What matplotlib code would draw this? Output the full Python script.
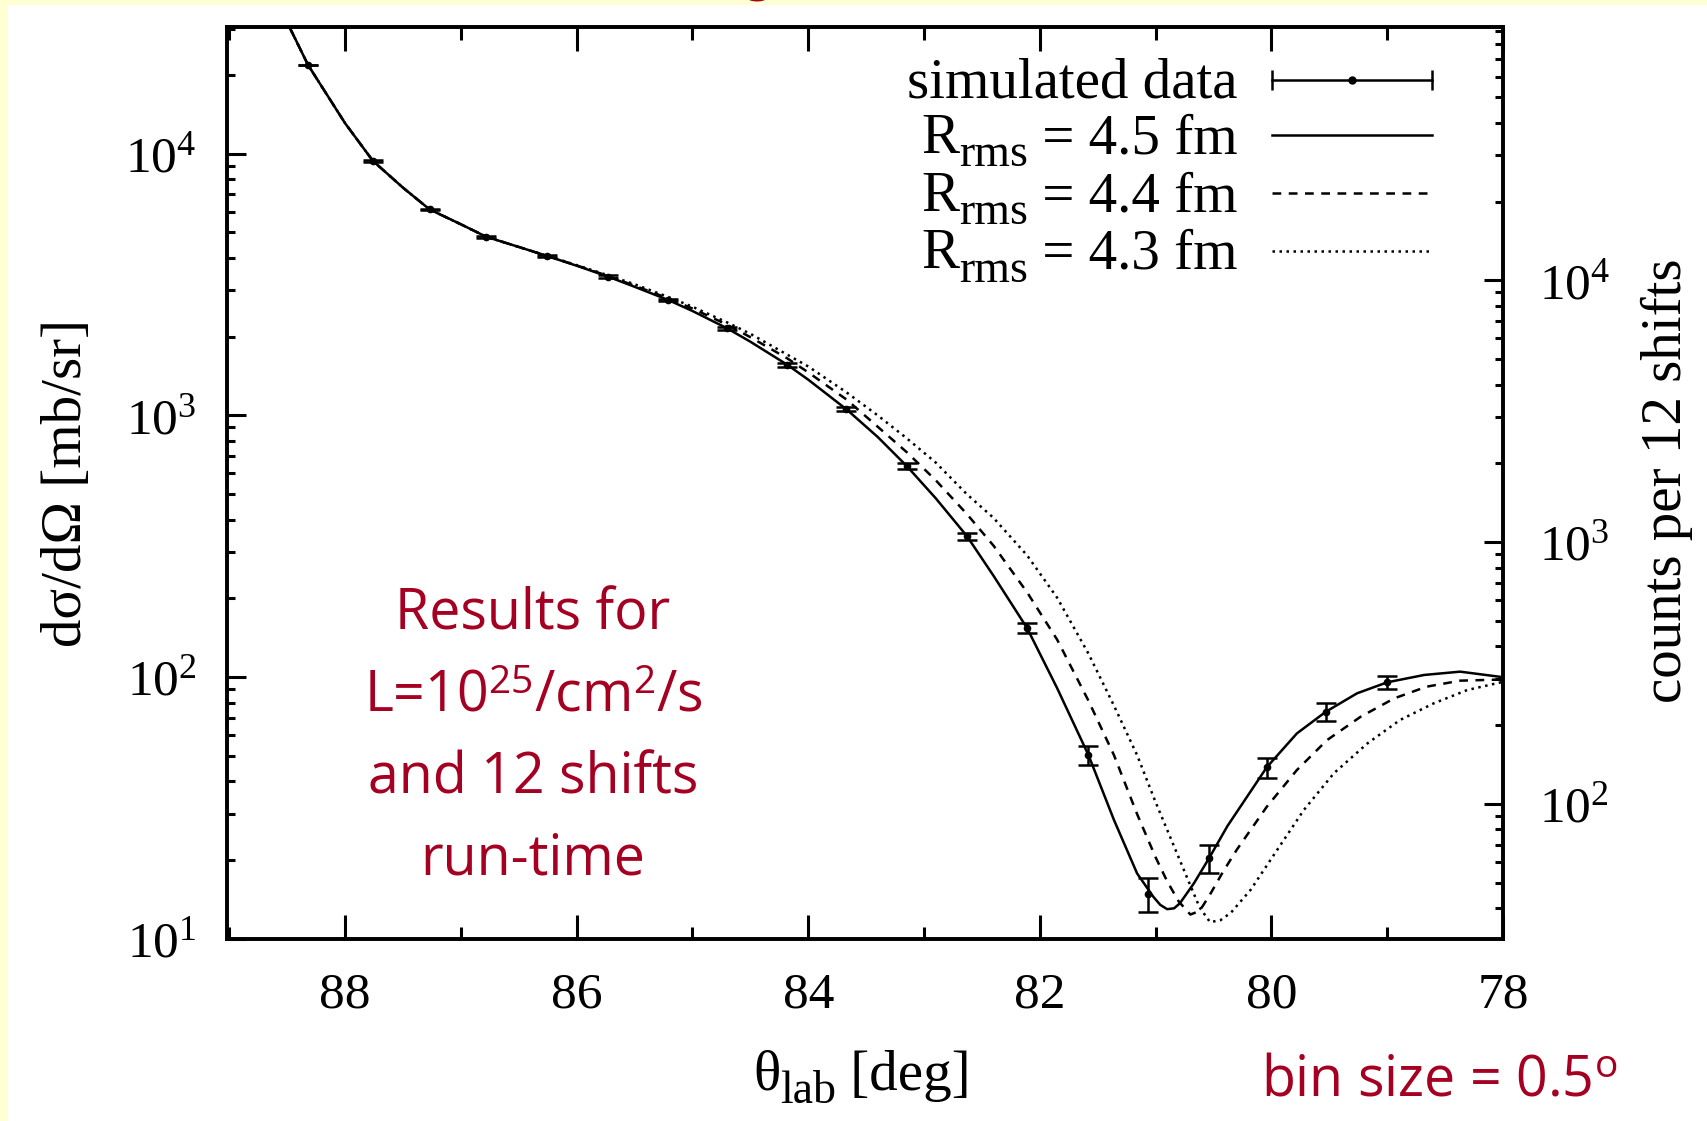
import matplotlib
matplotlib.use('Agg')
import matplotlib.pyplot as plt
from matplotlib.ticker import FixedLocator, FuncFormatter, LogLocator, NullFormatter, MultipleLocator
from matplotlib.patches import Rectangle
import numpy as np

# ---------------- data ----------------
data_theta = [88.32, 87.76, 87.27, 86.78, 86.26, 85.73, 85.21, 84.70, 84.18, 83.67,
              83.15, 82.63, 82.11, 81.58, 81.07, 80.54, 80.04, 79.53, 79.00]
data_sigma = [21800, 9380, 6120, 4810, 4070, 3390, 2760, 2150, 1560, 1055,
              641, 346, 154, 50.4, 14.9, 20.3, 45.3, 73.8, 95.6]
data_err = [90, 55, 45, 40, 37, 34, 30, 27, 23, 19, 15, 11, 7, 4.2, 2.2, 2.5, 4.0, 5.6, 5.5]

theta_45 = [88.60, 88.48, 88.32, 88.00, 87.76, 87.50, 87.27, 87.00, 86.78, 86.50, 86.26, 86.00,
            85.73, 85.50, 85.21, 85.00, 84.70, 84.50, 84.18, 84.00, 83.67, 83.40, 83.15, 82.90,
            82.63, 82.40, 82.11, 81.85, 81.58, 81.36, 81.16, 81.02, 80.96, 80.90, 80.84, 80.79,
            80.67, 80.54, 80.38, 80.30, 80.04, 79.78, 79.53, 79.26, 79.00, 78.68, 78.37, 78.00]
sigma_45 = [40000, 30400, 21800, 13060, 9380, 7410, 6120, 5370, 4810, 4400, 4070, 3730,
            3390, 3100, 2760, 2505, 2150, 1912, 1560, 1369, 1055, 827, 641, 483,
            346, 244, 154, 90.7, 50.4, 28.5, 17.8, 14.5, 13.5, 13.0, 13.1, 13.7,
            16.3, 20.3, 27.0, 30.5, 45.3, 61.0, 73.8, 86.8, 95.6, 102, 105, 100]

theta_44 = [88.60, 88.48, 88.32, 88.00, 87.76, 87.50, 87.27, 87.00, 86.78, 86.50, 86.26, 86.00,
            85.73, 85.50, 85.21, 85.00, 84.70, 84.50, 84.18, 84.00, 83.67, 83.40, 83.15, 82.90,
            82.63, 82.40, 82.11, 81.85, 81.58, 81.36, 81.16, 81.00, 80.90, 80.80, 80.70, 80.62,
            80.53, 80.42, 80.30, 80.04, 79.78, 79.52, 79.23, 78.94, 78.66, 78.37, 78.00]
sigma_44 = [40000, 30400, 21800, 13060, 9380, 7410, 6120, 5370, 4810, 4400, 4070, 3740,
            3410, 3130, 2800, 2560, 2220, 1990, 1650, 1460, 1150, 905, 724, 566,
            420, 318, 211, 139, 81.3, 50.4, 30.0, 20.5, 16.6, 13.9, 12.4, 12.8,
            14.8, 18.0, 21.9, 32.0, 44.2, 57.5, 70.6, 83.0, 92.0, 97.0, 98.0]

theta_43 = [88.60, 88.48, 88.32, 88.00, 87.76, 87.50, 87.27, 87.00, 86.78, 86.50, 86.26, 86.00,
            85.73, 85.50, 85.21, 85.00, 84.70, 84.50, 84.18, 84.00, 83.67, 83.40, 83.15, 82.90,
            82.63, 82.40, 82.11, 81.85, 81.58, 81.36, 81.16, 81.00, 80.85, 80.72, 80.62, 80.53,
            80.44, 80.35, 80.18, 79.95, 79.72, 79.46, 79.17, 78.89, 78.60, 78.31, 78.00]
sigma_43 = [40000, 30400, 21800, 13060, 9380, 7410, 6120, 5370, 4810, 4400, 4075, 3750,
            3430, 3170, 2835, 2600, 2265, 2050, 1705, 1538, 1225, 1000, 818, 661,
            500, 406, 292, 201, 123, 77.9, 50.4, 33.3, 23.1, 16.8, 13.2, 11.6,
            11.8, 12.6, 15.4, 21.9, 31.1, 43.0, 55.9, 68.6, 79.4, 89.3, 96.0]

x_ticks = [88, 86, 84, 82, 80, 78]
x_tick_labels = ['88', '86', '84', '82', '80', '78']
left_y_ticks = [10, 100, 1000, 10000]
right_y_ticks = [100, 1000, 10000]
counts_per_sigma = 3.05
y_limits = [10, 30450]
x_limits = [89.02, 78]

legend_first = 'simulated data'
legend_radii = [' = 4.5 fm', ' = 4.4 fm', ' = 4.3 fm']
note_lines = ['Results for',
              r'L=10$^{\mathregular{25}}$/cm$^{\mathregular{2}}$/s',
              'and 12 shifts',
              'run-time']
bin_note = r'bin size = 0.5$^{\mathregular{o}}$'

# ---------------- style ----------------
SERIF = 'Liberation Serif'
SANS = 'Open Sans'
RED = '#A50021'
YELLOW = '#FFFFD4'
plt.rcParams['font.family'] = [SERIF, 'DejaVu Serif']
plt.rcParams['mathtext.fontset'] = 'custom'
plt.rcParams['mathtext.rm'] = SERIF
plt.rcParams['mathtext.it'] = SERIF + ':italic'
plt.rcParams['mathtext.bf'] = SERIF + ':bold'

W, H = 1708, 1121
FS = 41
SUBFS = 33
SUBDROP = 13
fig = plt.figure(figsize=(W / 100, H / 100), dpi=100)
fig.patch.set_facecolor('white')
renderer = fig.canvas.get_renderer()
fig.add_artist(Rectangle((0, 1 - 5 / H), 1, 5 / H, transform=fig.transFigure,
                         facecolor=YELLOW, edgecolor='none'))
fig.add_artist(Rectangle((0, 0), 8 / W, 1, transform=fig.transFigure,
                         facecolor=YELLOW, edgecolor='none'))

ax = fig.add_axes([227 / W, 1 - 939 / H, (1503 - 227) / W, (939 - 27) / H])
ax.set_yscale('log')
ax.set_xlim(*x_limits)
ax.set_ylim(*y_limits)

LW = 1.8
ax.plot(theta_45, sigma_45, color='black', lw=LW, zorder=3)
ax.plot(theta_44, sigma_44, color='black', lw=LW, dashes=(3.5, 3), zorder=2)
ax.plot(theta_43, sigma_43, color='black', lw=LW, dashes=(1, 1.8), zorder=2)
ax.errorbar(data_theta, data_sigma, yerr=data_err, fmt='o', ms=4.5, color='black',
            elinewidth=LW, capsize=7.2, capthick=LW, zorder=4)

fmt = FuncFormatter(lambda v, p: r'$\mathregular{10^{%d}}$' % round(np.log10(v)))

ax.xaxis.set_major_locator(FixedLocator(x_ticks))
ax.set_xticklabels(x_tick_labels)
ax.xaxis.set_minor_locator(MultipleLocator(1))
ax.tick_params(axis='x', which='both', direction='in', top=True, bottom=True, width=2.2)
ax.tick_params(axis='x', which='major', length=17, pad=24, labelsize=37)
ax.tick_params(axis='x', which='minor', length=9)

ax.yaxis.set_major_locator(FixedLocator(left_y_ticks))
ax.yaxis.set_major_formatter(fmt)
ax.yaxis.set_minor_locator(LogLocator(base=10, subs=np.arange(2, 10), numticks=20))
ax.yaxis.set_minor_formatter(NullFormatter())
ax.tick_params(axis='y', which='both', direction='in', left=True, right=False, width=2.2)
ax.tick_params(axis='y', which='major', length=14, pad=22, labelsize=37)
ax.tick_params(axis='y', which='minor', length=6)

ax2 = ax.twinx()
ax2.set_yscale('log')
ax2.set_ylim(y_limits[0] * counts_per_sigma, y_limits[1] * counts_per_sigma)
ax2.yaxis.set_major_locator(FixedLocator(right_y_ticks))
ax2.yaxis.set_major_formatter(fmt)
ax2.yaxis.set_minor_locator(LogLocator(base=10, subs=np.arange(2, 10), numticks=20))
ax2.yaxis.set_minor_formatter(NullFormatter())
ax2.tick_params(axis='y', which='both', direction='in', width=2.2)
ax2.tick_params(axis='y', which='major', length=14, pad=26, labelsize=37)
ax2.tick_params(axis='y', which='minor', length=6)

for a in (ax, ax2):
    for s in a.spines.values():
        s.set_linewidth(2.6)


# helper: chain of text pieces laid out in pixel coordinates (origin top-left)
def text_chain(x_px, base_px, parts, align='right', **kw):
    """parts: list of (string, fontsize, drop_px) from left to right."""
    objs = []
    for s, fs, drop in parts:
        t = fig.text(0, 0, s, ha='left', va='baseline', fontsize=fs, **kw)
        w = t.get_window_extent(renderer).width
        objs.append((t, w, drop))
    total = sum(o[1] for o in objs)
    if align == 'right':
        x = x_px - total
    elif align == 'center':
        x = x_px - total / 2
    else:
        x = x_px
    for t, w, drop in objs:
        t.set_position((x / W, 1 - (base_px + drop) / H))
        x += w


# ---------------- legend (gnuplot style, drawn by hand) ----------------
AH = 939 - 27
text_right_px = 1238
rows_px = [79.5, 135, 193, 250.5]
rows = [1 - (r - 27) / AH for r in rows_px]
text_chain(text_right_px, rows_px[0] + 18, [(legend_first, FS, 0)])
for lab, rp in zip(legend_radii, rows_px[1:]):
    text_chain(text_right_px, rp + 18, [('R', FS, 0), ('rms', SUBFS, SUBDROP), (lab, FS, 0)])

x0, x1 = (1272 - 227) / 1276, (1432 - 227) / 1276
tr = ax.transAxes
ax.plot([x0, x1], [rows[0]] * 2, transform=tr, color='k', lw=LW, clip_on=False)
ax.plot([x0, x1], [rows[0]] * 2, transform=tr, ls='none', marker='|', ms=15, mew=LW,
        color='k', clip_on=False)
ax.plot([(x0 + x1) / 2], [rows[0]], transform=tr, marker='o', ms=5, color='k', clip_on=False)
ax.plot([x0, x1], [rows[1]] * 2, transform=tr, color='k', lw=LW, clip_on=False)
ax.plot([x0, x1], [rows[2]] * 2, transform=tr, color='k', lw=LW, dashes=(3.5, 3), clip_on=False)
ax.plot([x0, x1], [rows[3]] * 2, transform=tr, color='k', lw=LW, dashes=(1, 1.8), clip_on=False)

# ---------------- axis labels ----------------
fig.text(67 / W, 1 - 483 / H, 'dσ/dΩ [mb/sr]', rotation=90, ha='center', va='center',
         fontsize=FS)
fig.text(1667 / W, 1 - 481 / H, 'counts per 12 shifts', rotation=90, ha='center',
         va='center', fontsize=FS)
text_chain(862, 1090, [('θ', FS, 0), ('lab', SUBFS, SUBDROP), (' [deg]', FS, 0)],
           align='center')

# ---------------- red annotations ----------------
note_base = [629.6, 711, 793, 874.7]
for line, yb in zip(note_lines, note_base):
    fig.text(533 / W, 1 - yb / H, line, ha='center', va='baseline', color=RED,
             fontsize=40, family=SANS)
fig.text(1261 / W, 1 - 1095 / H, bin_note, ha='left', va='baseline', color=RED,
         fontsize=40, family=SANS)
# bottom of a cut-off title glyph at the very top edge
fig.text(757 / W, 1 + 10 / H, 'g', ha='center', va='baseline', color=RED,
         fontsize=44, family='Lato')

fig.savefig('out.png', dpi=100, facecolor=fig.get_facecolor())
